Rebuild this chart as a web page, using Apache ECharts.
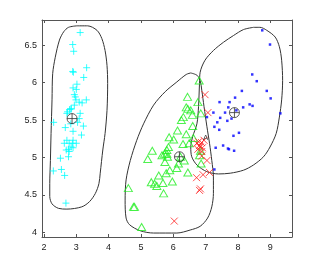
<!DOCTYPE html>
<html><head><meta charset="utf-8">
<script src="https://cdn.jsdelivr.net/npm/echarts@6/dist/echarts.min.js"></script>
<style>html,body{margin:0;padding:0;background:#fff}#c{width:322px;height:267px}</style>
</head><body><div id="c"></div>
<script>
var xTicks = [2,3,4,5,6,7,8,9];
var yTicks = [4,4.5,5,5.5,6,6.5];

var cyanPts = [[3.12,6.67],[2.89,6.51],[2.92,6.42],[3.32,6.20],[2.89,6.15],[2.91,6.14],[3.23,6.07],[3.02,5.98],[2.90,5.93],[3.00,5.91],[2.94,5.84],[2.97,5.81],[2.99,5.77],[3.31,5.77],[3.09,5.74],[3.18,5.73],[2.94,5.70],[2.83,5.65],[2.79,5.64],[2.85,5.65],[2.73,5.61],[2.71,5.59],[3.12,5.59],[3.09,5.52],[2.30,5.47],[3.04,5.47],[2.83,5.45],[3.22,5.42],[2.66,5.40],[2.90,5.35],[3.16,5.30],[2.90,5.23],[2.71,5.23],[2.78,5.19],[2.88,5.19],[3.00,5.19],[2.63,5.19],[2.84,5.14],[2.76,5.11],[2.90,5.13],[2.69,5.10],[2.78,5.08],[2.76,5.01],[2.51,4.99],[2.54,4.84],[2.29,4.82],[2.64,4.76],[2.68,4.39]];

var greenPts = [[6.80,6.03],[6.44,5.81],[6.76,5.74],[6.40,5.67],[6.45,5.65],[6.54,5.63],[6.31,5.54],[6.25,5.50],[6.85,5.59],[6.59,5.57],[6.60,5.42],[6.13,5.36],[5.87,5.27],[6.01,5.24],[6.40,5.31],[6.62,5.26],[6.49,5.19],[6.30,5.18],[5.85,5.14],[5.80,5.10],[5.35,5.09],[5.73,5.05],[5.80,5.05],[5.65,5.03],[5.82,5.01],[6.22,5.01],[6.81,5.03],[6.84,5.09],[5.21,4.98],[5.74,4.94],[6.34,4.96],[6.16,4.92],[6.86,4.92],[6.11,4.86],[5.89,4.83],[6.45,4.80],[5.78,4.79],[5.55,4.76],[5.32,4.67],[5.97,4.68],[5.68,4.66],[5.42,4.65],[5.49,4.62],[5.70,4.52],[4.61,4.59],[4.77,4.34],[4.80,4.34],[5.02,4.07]];

var redPts = [[6.98,5.84],[7.07,5.60],[6.95,5.23],[6.73,5.19],[6.81,5.16],[6.87,5.20],[6.90,5.13],[6.76,5.11],[6.88,5.08],[6.83,5.14],[6.78,5.21],[6.88,5.02],[7.04,4.96],[7.12,4.80],[6.92,4.77],[6.72,4.73],[6.84,4.58],[6.81,4.56],[6.03,4.15]];

var bluePts = [[8.75,6.70],[8.99,6.51],[8.44,6.11],[8.58,6.02],[8.12,5.89],[8.89,5.89],[7.91,5.80],[9.01,5.79],[7.43,5.74],[7.74,5.74],[7.70,5.67],[8.36,5.71],[8.45,5.69],[8.16,5.67],[7.95,5.63],[7.24,5.60],[7.60,5.60],[7.45,5.53],[7.80,5.52],[9.31,5.59],[7.04,5.54],[7.36,5.47],[7.67,5.49],[7.27,5.41],[7.42,5.37],[7.86,5.29],[8.03,5.33],[7.54,5.16],[7.31,5.13],[7.69,5.12],[7.72,5.11],[7.88,5.09],[7.27,4.84]];

var centroids = [[2.87,5.52],[6.19,5.01],[7.89,5.60]];

var outline1 = [[3.02,6.76],[3.35,6.76],[3.64,6.70],[3.79,6.59],[3.89,6.43],[3.95,6.23],[3.97,5.99],[3.95,5.63],[3.89,5.32],[3.82,5.10],[3.74,4.79],[3.70,4.65],[3.59,4.52],[3.41,4.41],[3.17,4.34],[2.71,4.31],[2.45,4.32],[2.25,4.38],[2.18,4.48],[2.18,4.65],[2.20,4.96],[2.22,5.32],[2.25,5.77],[2.27,6.12],[2.35,6.34],[2.48,6.57],[2.61,6.68],[2.76,6.74],[3.02,6.76]];

var outline2 = [[6.54,6.13],[6.73,6.10],[6.83,6.03],[6.88,5.90],[6.95,5.68],[7.04,5.41],[7.12,5.19],[7.19,4.96],[7.24,4.74],[7.24,4.52],[7.19,4.34],[7.06,4.19],[6.83,4.08],[6.52,4.03],[6.11,3.99],[5.39,3.99],[4.98,4.02],[4.65,4.10],[4.54,4.19],[4.51,4.43],[4.54,4.70],[4.67,4.96],[4.87,5.23],[5.08,5.45],[5.39,5.70],[5.75,5.88],[6.11,6.01],[6.40,6.11],[6.54,6.13]];

var outline3 = [[8.48,6.74],[8.68,6.74],[8.89,6.70],[9.15,6.61],[9.28,6.48],[9.35,6.30],[9.38,6.03],[9.35,5.77],[9.28,5.54],[9.18,5.32],[8.99,5.14],[8.79,5.01],[8.48,4.90],[8.17,4.83],[7.76,4.79],[7.40,4.78],[7.04,4.81],[6.73,4.90],[6.57,5.01],[6.54,5.14],[6.60,5.28],[6.73,5.45],[6.78,5.68],[6.81,5.99],[6.83,6.14],[6.98,6.30],[7.24,6.43],[7.55,6.54],[7.86,6.63],[8.17,6.71],[8.48,6.74]];

var labelPt = [[7.0,5.26]];
var labelText = 'A';

var chart = echarts.init(document.getElementById('c'), null, {renderer:'canvas'});
var font = '"Liberation Sans", Arial, sans-serif';
var axisColor = '#555';
function xAxis(pos, showLabel){
  return {type:'value', position:pos, min:1.94, max:9.67,
    axisLine:{show:true, onZero:false, lineStyle:{color:axisColor, width:1}},
    axisTick:{show:true, inside:true, length:3, customValues:xTicks, lineStyle:{color:axisColor}},
    axisLabel:{show:showLabel, customValues:xTicks, color:'#222', fontSize:9, fontFamily:font, margin:6},
    splitLine:{show:false}};
}
function yAxis(pos, showLabel){
  return {type:'value', position:pos, min:3.937, max:6.838,
    axisLine:{show:true, onZero:false, lineStyle:{color:axisColor, width:1}},
    axisTick:{show:true, inside:true, length:3, customValues:yTicks, lineStyle:{color:axisColor}},
    axisLabel:{show:showLabel, customValues:yTicks, color:'#222', fontSize:9, fontFamily:font, margin:5},
    splitLine:{show:false}};
}
var plusPath = 'path://M0,5L10,5M5,0L5,10';
var xPath = 'path://M0,0L10,10M10,0L0,10';
var triPath = 'path://M5,0L10,9L0,9Z';
function outline(d){
  return {type:'line', data:d, xAxisIndex:0, yAxisIndex:0, symbol:'none', smooth:0.3,
    lineStyle:{color:'#333', width:1}, z:1, silent:true};
}
chart.setOption({
  animation:false,
  grid:{left:42, top:20, right:30, bottom:30, containLabel:false},
  xAxis:[xAxis('bottom', true), xAxis('top', false)],
  yAxis:[yAxis('left', true), yAxis('right', false)],
  series:[
    outline(outline1), outline(outline2), outline(outline3),
    {type:'scatter', data:cyanPts, symbol:plusPath, symbolSize:7,
      itemStyle:{color:'rgba(0,0,0,0)', borderColor:'#00ffff', borderWidth:1}, z:3},
    {type:'scatter', data:greenPts, symbol:triPath, symbolSize:[8,7],
      itemStyle:{color:'rgba(0,0,0,0)', borderColor:'#22ee22', borderWidth:1}, z:3},
    {type:'scatter', data:redPts, symbol:xPath, symbolSize:7,
      itemStyle:{color:'rgba(0,0,0,0)', borderColor:'#ff2020', borderWidth:1}, z:3},
    {type:'scatter', data:bluePts, symbol:'rect', symbolSize:2.5,
      itemStyle:{color:'#0000ff'}, z:3},
    {type:'scatter', data:centroids, symbol:'circle', symbolSize:10,
      itemStyle:{color:'rgba(0,0,0,0)', borderColor:'#333', borderWidth:1}, z:4},
    {type:'scatter', data:centroids, symbol:plusPath, symbolSize:10,
      itemStyle:{color:'rgba(0,0,0,0)', borderColor:'#333', borderWidth:1}, z:4},
    {type:'scatter', data:labelPt, symbolSize:0, z:5,
      label:{show:true, position:'inside', formatter:labelText, color:'#111', fontSize:8, fontFamily:font}}
  ]
});
</script></body></html>
